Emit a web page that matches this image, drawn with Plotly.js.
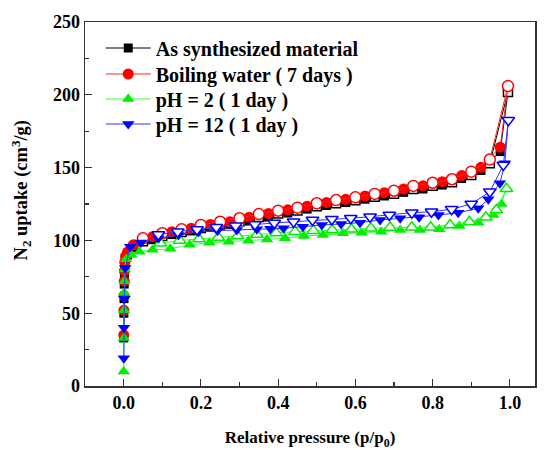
<!DOCTYPE html>
<html>
<head>
<meta charset="utf-8">
<script src="https://cdn.plot.ly/plotly-3.0.1.min.js"></script>
<style>html,body{margin:0;padding:0;background:#fff;}#chart{width:544px;height:450px;}</style>
</head>
<body>
<div id="chart"></div>
<script>
// Series names
const seriesNames = ["As synthesized material", "Boiling water ( 7 days )", "pH = 2 ( 1 day )", "pH = 12 ( 1 day )"];

// As synthesized (black) adsorption / desorption
const blackAdsX = [0.0003,0.0006,0.001,0.0015,0.002,0.003,0.005,0.01,0.025,0.075,0.125,0.175,0.225,0.275,0.325,0.375,0.425,0.475,0.525,0.575,0.625,0.675,0.725,0.775,0.825,0.875,0.925,0.975,0.995];
const blackAdsY = [33,50,60,70,77,83,87,90,95,100.5,104,106.5,109,111,113.5,116,118.8,121.5,124,126,128.3,130.5,133,135.3,138,142.5,148,161,202];
const blackDesX = [0.995,0.948,0.9,0.85,0.8,0.75,0.7,0.65,0.6,0.55,0.5,0.45,0.4,0.35,0.3,0.25,0.2,0.15,0.1,0.05];
const blackDesY = [202,153,145,140,137.5,135.3,132,130,127.5,125.5,123.5,120.5,118.5,116,113.2,111,108.6,105.8,103,99.5];

// Boiling water (red)
const redAdsX = [0.0003,0.0006,0.001,0.0015,0.002,0.003,0.005,0.01,0.025,0.075,0.125,0.175,0.225,0.275,0.325,0.375,0.425,0.475,0.525,0.575,0.625,0.675,0.725,0.775,0.825,0.875,0.925,0.975,0.995];
const redAdsY = [35,52,62,72,79,85,89,92,97,102.5,106,108.3,111,112.8,115.9,118.5,121,123.5,126,128.2,130.5,132.8,135.3,137.5,140.3,144.5,150.2,164,206];
const redDesX = [0.995,0.948,0.9,0.85,0.8,0.75,0.7,0.65,0.6,0.55,0.5,0.45,0.4,0.35,0.3,0.25,0.2,0.15,0.1,0.05];
const redDesY = [206,155.5,147.2,142,139.6,137.4,134.1,131.9,129.6,127.7,125.5,122.5,120.4,118.1,115.2,112.8,110.6,107.6,104.9,101.4];

// pH = 2 (green)
const greenAdsX = [0.0003,0.0006,0.001,0.0015,0.002,0.003,0.006,0.02,0.041,0.075,0.121,0.171,0.222,0.272,0.323,0.371,0.418,0.467,0.516,0.568,0.616,0.667,0.716,0.767,0.817,0.869,0.918,0.957,0.978,0.991];
const greenAdsY = [10,33,52,64,72,80,87,90,92.2,93.5,94.2,97,98.4,99.1,99.8,100.7,101.4,103,103.7,104.9,105.3,106,107.1,107.1,107.6,109.9,112.2,117.4,125,135.5];
const greenDesX = [0.991,0.965,0.938,0.895,0.845,0.795,0.746,0.69,0.64,0.59,0.54,0.491,0.444,0.395,0.345,0.295,0.245,0.195,0.145,0.095];
const greenDesY = [135.5,120.9,115.9,112.8,110.6,109,109,108.8,108.3,107.6,107.1,106.7,106,105,104,103,102,101,100,98];

// pH = 12 (blue)
const blueAdsX = [0.0005,0.001,0.002,0.004,0.017,0.045,0.09,0.142,0.194,0.243,0.293,0.345,0.38,0.414,0.464,0.513,0.563,0.612,0.664,0.716,0.765,0.815,0.866,0.918,0.944,0.974,0.987,0.996];
const blueAdsY = [19,40,60,81,95.7,98.5,101.5,103.7,106,106.7,107.1,107.6,108,108.3,109.4,110.6,111.3,112.2,114,115.2,115.9,117.4,119,122,128.2,139.2,153,182.5];
const blueDesX = [0.996,0.983,0.948,0.9,0.849,0.797,0.746,0.688,0.638,0.588,0.539,0.489,0.44,0.39,0.34,0.29,0.24,0.19,0.14,0.09];
const blueDesY = [182.5,151.8,133.4,125,121.4,119.7,119,117.4,116.3,115.2,114.5,114,112.8,112,111,110,109,107.5,106,104];

const xTickVals = [0, 0.2, 0.4, 0.6, 0.8, 1.0];
const xTickText = ['0.0','0.2','0.4','0.6','0.8','1.0'];
const yTickVals = [0, 50, 100, 150, 200, 250];

const colors = ["#000000", "#ff0000", "#00ee00", "#0000ff"];
const lineColors = ["#000000", "#ff2020", "#33ff33", "#3333ff"];
const symbols = ["square", "circle", "triangle-up", "triangle-down"];
const sizes = [9, 11, 11, 11];
const legendIds = ['legend', 'legend2', 'legend3', 'legend4'];

const ads = [[blackAdsX, blackAdsY],[redAdsX, redAdsY],[greenAdsX, greenAdsY],[blueAdsX, blueAdsY]];
const des = [[blackDesX, blackDesY],[redDesX, redDesY],[greenDesX, greenDesY],[blueDesX, blueDesY]];

const traces = [];
for (let i = 0; i < 4; i++) {
  traces.push({
    x: ads[i][0], y: ads[i][1], type: 'scatter', mode: 'lines+markers',
    name: seriesNames[i], legendgroup: 'g' + i, showlegend: true, legend: legendIds[i],
    line: {color: lineColors[i], width: 1},
    marker: {symbol: symbols[i], size: sizes[i], color: colors[i], line: {width: 0}}
  });
  traces.push({
    x: des[i][0], y: des[i][1], type: 'scatter', mode: 'lines+markers',
    name: seriesNames[i] + ' (des)', legendgroup: 'g' + i, showlegend: false, legend: legendIds[i],
    line: {color: lineColors[i], width: 1},
    marker: {symbol: symbols[i], size: sizes[i], color: '#ffffff', line: {color: colors[i], width: 1.5}}
  });
}

const fontFam = "Liberation Serif";

function legendAt(py) {
  return {
    x: 0.035, y: (386 - py) / 364, xanchor: 'left', yanchor: 'middle',
    bgcolor: 'rgba(0,0,0,0)', borderwidth: 0,
    font: {family: fontFam, size: 20, color: '#000', weight: 'bold'},
    itemwidth: 45
  };
}

const layout = {
  width: 544, height: 450,
  margin: {l: 85, r: 9, t: 22, b: 64},
  paper_bgcolor: '#ffffff', plot_bgcolor: '#ffffff',
  font: {family: fontFam, color: '#000', size: 16, weight: 'bold'},
  showlegend: true,
  legend: legendAt(48),
  legend2: legendAt(74),
  legend3: legendAt(99),
  legend4: legendAt(124),
  xaxis: {
    range: [-0.1, 1.065], tickvals: xTickVals, ticktext: xTickText,
    ticks: 'inside', ticklen: 7, tickwidth: 1.2, tickcolor: '#333',
    minor: {tickvals: [-0.1, 0.1, 0.3, 0.5, 0.7, 0.9], ticks: 'inside', ticklen: 4, tickwidth: 1.2, tickcolor: '#333'},
    showgrid: false, zeroline: false, showline: true, linecolor: '#333', linewidth: 1.5, mirror: true,
    tickfont: {family: fontFam, size: 18, weight: 'bold', color: '#000'},
    title: {text: 'Relative pressure (p/p<sub>0</sub>)', font: {family: fontFam, size: 17, weight: 'bold', color: '#000'}, standoff: 20}
  },
  yaxis: {
    range: [0, 250], tickvals: yTickVals,
    ticks: 'inside', ticklen: 7, tickwidth: 1.2, tickcolor: '#333',
    minor: {tickvals: [25, 75, 125, 175, 225], ticks: 'inside', ticklen: 4, tickwidth: 1.2, tickcolor: '#333'},
    showgrid: false, zeroline: false, showline: true, linecolor: '#333', linewidth: 1.5, mirror: true,
    tickfont: {family: fontFam, size: 18, weight: 'bold', color: '#000'}
  },
  annotations: [{
    text: 'N<sub>2</sub> uptake (cm<sup>3</sup>/g)', textangle: -90,
    xref: 'paper', yref: 'paper', x: -0.141, y: 0.536, xanchor: 'center', yanchor: 'middle',
    showarrow: false, font: {family: fontFam, size: 18.5, weight: 'bold', color: '#000'}
  }]
};

Plotly.newPlot('chart', traces, layout, {displayModeBar: false, staticPlot: true});
</script>
</body>
</html>
